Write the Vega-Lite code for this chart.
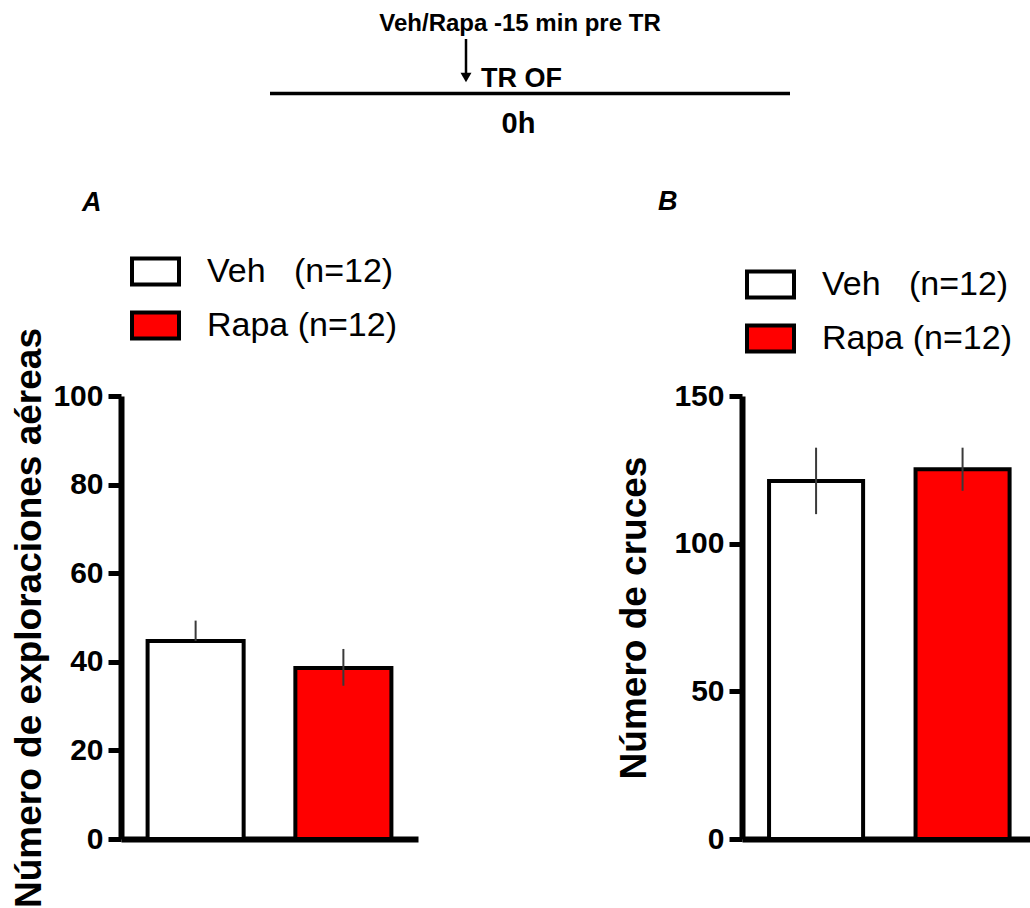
{
  "$schema": "https://vega.github.io/schema/vega-lite/v6.json",
  "padding": {"left": 10, "top": 0, "right": 0, "bottom": 0},
  "background": "white",
  "spacing": 256,
  "bounds": "flush",
  "config": {
    "view": {"stroke": null},
    "font": "Liberation Sans",
    "axisY": {
      "grid": false,
      "domainColor": "black",
      "domainWidth": 6,
      "tickColor": "black",
      "tickWidth": 5,
      "tickSize": 13,
      "labelFont": "Liberation Sans",
      "labelFontWeight": "bold",
      "labelFontSize": 30,
      "labelColor": "black",
      "labelPadding": 5,
      "titleFont": "Liberation Sans",
      "titleFontWeight": "bold",
      "titleFontSize": 37,
      "titleColor": "black"
    },
    "axisX": {
      "grid": false,
      "domainColor": "black",
      "domainWidth": 6,
      "labels": false,
      "ticks": false,
      "title": null
    },
    "title": {
      "font": "Liberation Sans",
      "fontSize": 27,
      "fontWeight": "bold",
      "fontStyle": "italic",
      "color": "black",
      "anchor": "start",
      "frame": "group",
      "baseline": "alphabetic"
    },
    "legend": {
      "title": null,
      "orient": "none",
      "symbolType": "M-1,-0.553H1V0.553H-1Z",
      "symbolSize": 2209,
      "symbolStrokeColor": "black",
      "symbolStrokeWidth": 4,
      "symbolOpacity": 1,
      "labelFont": "Liberation Sans",
      "labelFontSize": 34,
      "labelColor": "black",
      "labelOffset": 26,
      "labelLimit": 400,
      "rowPadding": 7,
      "padding": 0
    }
  },
  "vconcat": [
    {
      "width": 909,
      "height": 140,
      "encoding": {
        "x": {"field": "pos", "type": "quantitative", "scale": {"domain": [0, 909], "nice": false, "zero": false}, "axis": null},
        "y": {"field": "alt", "type": "quantitative", "scale": {"domain": [140, 0], "nice": false, "zero": false}, "axis": null}
      },
      "layer": [
        {
          "data": {"values": [{"pos": 149, "pos2": 669, "alt": 93.5}]},
          "mark": {"type": "rule", "color": "black", "strokeWidth": 3.5},
          "encoding": {"x2": {"field": "pos2"}}
        },
        {
          "data": {"values": [{"pos": 345, "alt": 39, "alt2": 75}]},
          "mark": {"type": "rule", "color": "black", "strokeWidth": 2.5},
          "encoding": {"y2": {"field": "alt2"}}
        },
        {
          "data": {"values": [{"pos": 345, "alt": 77.5}]},
          "mark": {"type": "point", "shape": "triangle-down", "filled": true, "color": "black", "size": 120, "opacity": 1},
          "encoding": {}
        },
        {
          "data": {"values": [{"pos": 399, "alt": 31, "txt": "Veh/Rapa -15 min pre TR"}]},
          "mark": {"type": "text", "font": "Liberation Sans", "fontWeight": "bold", "fontSize": 24, "align": "center", "baseline": "alphabetic", "color": "black"},
          "encoding": {"text": {"field": "txt"}}
        },
        {
          "data": {"values": [{"pos": 360, "alt": 87, "txt": "TR OF"}]},
          "mark": {"type": "text", "font": "Liberation Sans", "fontWeight": "bold", "fontSize": 27, "align": "left", "baseline": "alphabetic", "color": "black"},
          "encoding": {"text": {"field": "txt"}}
        },
        {
          "data": {"values": [{"pos": 397.5, "alt": 133, "txt": "0h"}]},
          "mark": {"type": "text", "font": "Liberation Sans", "fontWeight": "bold", "fontSize": 29, "align": "center", "baseline": "alphabetic", "color": "black"},
          "encoding": {"text": {"field": "txt"}}
        }
      ]
    },
    {
      "hconcat": [
        {
          "width": 297,
          "height": 443,
          "title": {"text": "A", "dx": -39, "offset": 29},
          "data": {"values": [
            {"grupo": "Veh", "media": 44.7, "lo": 44.7, "hi": 49.3},
            {"grupo": "Rapa", "media": 38.6, "lo": 34.6, "hi": 42.9}
          ]},
          "encoding": {
            "x": {"field": "grupo", "type": "nominal", "sort": ["Veh", "Rapa"], "scale": {"paddingInner": 0.35, "paddingOuter": 0.18}, "axis": {}}
          },
          "layer": [
            {
              "mark": {"type": "bar", "stroke": "black", "strokeWidth": 4, "opacity": 1},
              "encoding": {
                "y": {"field": "media", "type": "quantitative", "scale": {"domain": [0, 100], "nice": false},
                  "axis": {"values": [0, 20, 40, 60, 80, 100], "title": "Número de exploraciones aéreas", "titlePadding": 4}},
                "fill": {"field": "grupo", "type": "nominal", "scale": {"domain": ["Veh", "Rapa"], "range": ["#ffffff", "#ff0000"]},
                  "legend": {"legendX": 9, "legendY": -150,
                    "labelExpr": "datum.label == 'Veh' ? 'Veh\u00a0\u00a0\u00a0(n=12)' : 'Rapa (n=12)'",
                    "encode": {"symbols": {"update": {"stroke": {"value": "black"}, "strokeWidth": {"value": 4}}}}}}
              }
            },
            {
              "mark": {"type": "rule", "color": "#3a3a3a", "strokeWidth": 2},
              "encoding": {
                "y": {"field": "lo", "type": "quantitative"},
                "y2": {"field": "hi"}
              }
            }
          ]
        },
        {
          "width": 288,
          "height": 443,
          "title": {"text": "B", "dx": -84, "offset": 43},
          "data": {"values": [
            {"grupo": "Veh", "media": 121.2, "lo": 110.0, "hi": 132.5},
            {"grupo": "Rapa", "media": 125.2, "lo": 117.9, "hi": 132.5}
          ]},
          "encoding": {
            "x": {"field": "grupo", "type": "nominal", "sort": ["Veh", "Rapa"], "scale": {"paddingInner": 0.358, "paddingOuter": 0.162, "align": 0.57}, "axis": {}}
          },
          "layer": [
            {
              "mark": {"type": "bar", "stroke": "black", "strokeWidth": 4, "opacity": 1},
              "encoding": {
                "y": {"field": "media", "type": "quantitative", "scale": {"domain": [0, 150], "nice": false},
                  "axis": {"values": [0, 50, 100, 150], "title": "Número de cruces", "titlePadding": 20}},
                "fill": {"field": "grupo", "type": "nominal", "scale": {"domain": ["Veh", "Rapa"], "range": ["#ffffff", "#ff0000"]},
                  "legend": {"legendX": 3, "legendY": -137,
                    "labelExpr": "datum.label == 'Veh' ? 'Veh\u00a0\u00a0\u00a0(n=12)' : 'Rapa (n=12)'",
                    "encode": {"symbols": {"update": {"stroke": {"value": "black"}, "strokeWidth": {"value": 4}}}}}}
              }
            },
            {
              "mark": {"type": "rule", "color": "#3a3a3a", "strokeWidth": 2},
              "encoding": {
                "y": {"field": "lo", "type": "quantitative"},
                "y2": {"field": "hi"}
              }
            }
          ]
        }
      ],
      "spacing": 324,
      "bounds": "flush",
      "resolve": {"scale": {"fill": "independent"}}
    }
  ]
}
